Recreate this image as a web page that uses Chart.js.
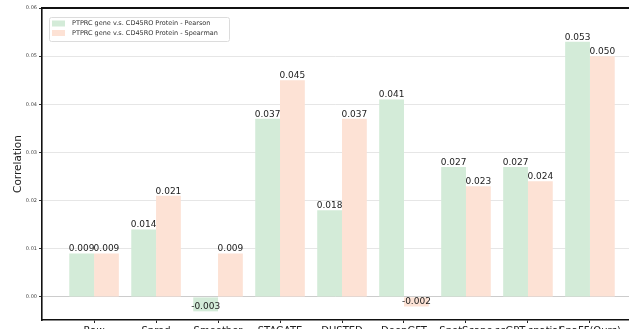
<!DOCTYPE html>
<html>
<head>
<meta charset="utf-8">
<script src="https://cdn.jsdelivr.net/npm/chart.js@4/dist/chart.umd.min.js"></script>
<style>
  html, body { margin: 0; padding: 0; overflow: hidden; background: #fff; }
  #wrap { position: absolute; left: 0; top: 0; width: 629px; height: 342px; }
</style>
</head>
<body>
<div id="wrap"><canvas id="c"></canvas></div>
<script>
// Methods compared, one group of bars each
const methods = ['Raw', 'Sprod', 'Smoother', 'STAGATE', 'DUSTED', 'DeepGFT', 'SpotScape', 'scGPT-spatial', 'SpaFF(Ours)'];
// Correlation between PTPRC gene and CD45RO protein
const pearson  = [0.009, 0.014, -0.003, 0.037, 0.018, 0.041, 0.027, 0.027, 0.053];
const spearman = [0.009, 0.021, 0.009, 0.045, 0.037, -0.002, 0.023, 0.024, 0.050];
const seriesNames = ['PTPRC gene v.s. CD45RO Protein - Pearson', 'PTPRC gene v.s. CD45RO Protein - Spearman'];
const yTickValues = [0.00, 0.01, 0.02, 0.03, 0.04, 0.05, 0.06];

const GREEN = '#d3ebd8';
const PEACH = '#fde2d5';
const FONT = "'DejaVu Sans', sans-serif";
const CANVAS_H = 342;
const AXIS_BOTTOM = 320;

// Value printed at the end of every bar
const valueLabels = {
  id: 'valueLabels',
  afterDatasetsDraw(chart) {
    const ctx = chart.ctx;
    ctx.save();
    ctx.font = '9px ' + FONT;
    ctx.fillStyle = '#222';
    ctx.textAlign = 'center';
    ctx.textBaseline = 'bottom';
    chart.data.datasets.forEach((ds, di) => {
      const meta = chart.getDatasetMeta(di);
      meta.data.forEach((el, i) => {
        ctx.fillText(ds.data[i].y.toFixed(3), el.x, el.y);
      });
    });
    ctx.restore();
  }
};

// Top spine and the legend box in the upper-left corner
const frameAndLegend = {
  id: 'frameAndLegend',
  afterDraw(chart) {
    const ctx = chart.ctx;
    const a = chart.chartArea;
    ctx.save();
    ctx.fillStyle = '#111';
    ctx.fillRect(a.left - 1, Math.round(a.top) - 1, chart.width - a.left + 1, 2);

    const bx = 49, by = 17, bw = 180, bh = 24;
    ctx.fillStyle = 'rgba(255,255,255,0.85)';
    ctx.strokeStyle = '#dcdcdc';
    ctx.lineWidth = 1;
    ctx.beginPath();
    ctx.roundRect(bx + 0.5, by + 0.5, bw, bh, 2);
    ctx.fill();
    ctx.stroke();

    ctx.font = '6.5px ' + FONT;
    ctx.textAlign = 'left';
    ctx.textBaseline = 'middle';
    chart.data.datasets.forEach((ds, i) => {
      const cy = by + 6.5 + i * 9.5;
      ctx.fillStyle = ds.backgroundColor;
      ctx.fillRect(bx + 3, cy - 3, 13, 6);
      ctx.fillStyle = '#333';
      ctx.fillText(ds.label, bx + 23, cy);
    });
    ctx.restore();
  }
};

const toPoints = arr => arr.map((v, i) => ({ x: i, y: v }));

new Chart(document.getElementById('c'), {
  type: 'bar',
  data: {
    datasets: [
      { label: seriesNames[0], data: toPoints(pearson),  backgroundColor: GREEN, borderWidth: 0 },
      { label: seriesNames[1], data: toPoints(spearman), backgroundColor: PEACH, borderWidth: 0 }
    ]
  },
  options: {
    responsive: true,
    maintainAspectRatio: false,
    animation: false,
    devicePixelRatio: 1,
    layout: { padding: { top: 8, left: 0, right: 0, bottom: 0 } },
    datasets: { bar: { categoryPercentage: 0.8, barPercentage: 1.0 } },
    plugins: { legend: { display: false }, tooltip: { enabled: false } },
    scales: {
      x: {
        type: 'linear',
        min: -0.84,
        max: 8.63,
        offset: false,
        grid: { offset: false, drawOnChartArea: false, drawTicks: true, tickLength: 3, color: '#222', lineWidth: 1 },
        border: { display: true, color: '#111', width: 1.6 },
        afterBuildTicks: s => { s.ticks = methods.map((_, i) => ({ value: i })); },
        afterFit: s => { s.height = CANVAS_H - AXIS_BOTTOM; },
        ticks: {
          autoSkip: false, maxRotation: 0, minRotation: 0, padding: 2,
          color: '#222', font: { family: FONT, size: 10 },
          callback: v => methods[v]
        }
      },
      y: {
        min: -0.0048,
        max: 0.06,
        grid: {
          color: ctx => (ctx.tick && ctx.tick.value === 0 ? '#cccccc' : '#e6e6e6'),
          lineWidth: 1, tickLength: 3, drawTicks: true,
          tickColor: '#333'
        },
        border: { display: true, color: '#111', width: 1.6 },
        afterBuildTicks: s => { s.ticks = yTickValues.map(v => ({ value: v })); },
        afterFit: s => { s.width = 42; },
        ticks: {
          padding: 2, color: '#444', font: { family: FONT, size: 5 },
          callback: v => v.toFixed(2)
        },
        title: {
          display: true, text: 'Correlation', color: '#222',
          font: { family: FONT, size: 10.5 },
          padding: { top: 12, bottom: 0 }
        }
      }
    }
  },
  plugins: [valueLabels, frameAndLegend]
});
</script>
</body>
</html>
